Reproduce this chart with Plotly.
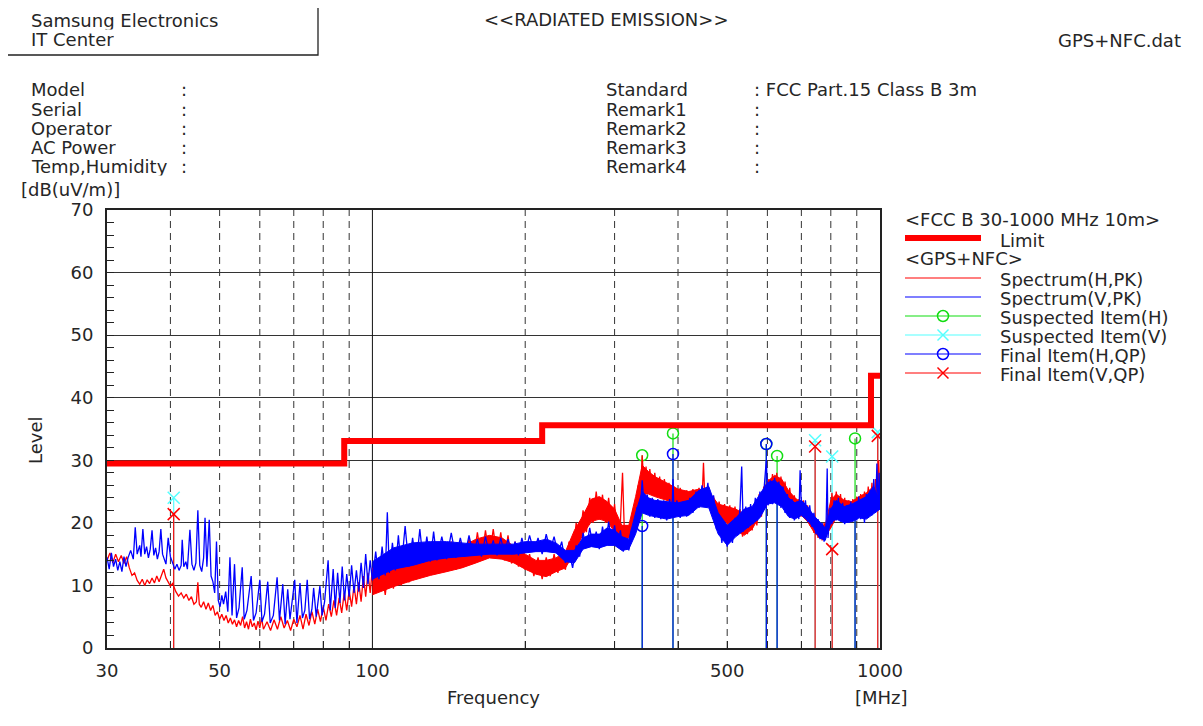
import plotly.graph_objects as go

# ---------------- data ----------------
LIMIT_FREQ = [30, 88, 88, 216, 216, 960, 960, 1000]
LIMIT_LEVEL = [29.5, 29.5, 33.1, 33.1, 35.6, 35.6, 43.5, 43.5]

# peak-detector spectra (MHz, dBuV/m)
SPEC_H = [
    (30.0, 14.0), (30.4, 15.2), (30.8, 13.6), (31.2, 15.0), (31.6, 13.8), (32.0, 14.8), (32.4, 13.5),
    (32.8, 14.6), (33.2, 12.8), (33.6, 11.6), (34.0, 12.0), (34.4, 10.8), (34.8, 10.2), (35.2, 11.0),
    (35.6, 10.0), (36.0, 10.9), (36.4, 10.3), (36.8, 11.2), (37.2, 10.4), (37.6, 11.5), (38.0, 10.6),
    (38.4, 11.8), (38.8, 12.6), (39.2, 11.2), (39.6, 10.5), (40.0, 9.9), (40.4, 10.3), (41.0, 9.0),
    (41.5, 8.3), (42.0, 8.8), (42.5, 8.0), (43.0, 8.6), (43.5, 7.6), (44.0, 8.2), (44.5, 7.0),
    (45.0, 7.4), (45.3, 10.5), (45.6, 7.0), (46.0, 6.5), (46.5, 7.4), (47.0, 6.2), (47.5, 7.2),
    (48.0, 6.0), (48.5, 6.8), (49.0, 5.2), (49.5, 5.8), (50.0, 4.6), (50.5, 5.4), (51.0, 4.4),
    (51.5, 5.2), (52.0, 4.0), (52.5, 4.8), (53.0, 3.8), (53.5, 4.5), (54.0, 3.4), (54.5, 4.4),
    (55.0, 3.6), (55.5, 5.0), (56.0, 3.2), (56.5, 4.2), (57.0, 3.0), (57.5, 4.6), (58.0, 3.4),
    (58.5, 4.0), (59.0, 2.9), (59.5, 4.3), (60.0, 3.2), (60.5, 4.8), (61.0, 3.0), (62.0, 4.2),
    (63.0, 2.8), (64.0, 4.5), (65.0, 3.0), (66.0, 5.0), (67.0, 3.2), (68.0, 4.4), (69.0, 2.8),
    (70.0, 4.6), (71.0, 3.4), (72.0, 5.2), (73.0, 3.0), (74.0, 5.4), (75.0, 3.6), (76.0, 5.8),
    (77.0, 3.8), (78.0, 6.2), (79.0, 4.2), (80.0, 6.6), (81.0, 4.4), (82.0, 7.0), (83.0, 5.0),
    (84.0, 7.6), (85.0, 5.2), (86.0, 8.0), (87.0, 5.6), (88.0, 8.8), (89.0, 6.0), (90.0, 9.2),
    (91.0, 6.6), (92.0, 10.0), (93.0, 7.0), (94.0, 10.5), (95.0, 7.4), (96.0, 11.5), (97.0, 8.2),
    (98.0, 12.0), (99.0, 8.8), (100.0, 12.8), (102, 9.0), (104, 13.0), (106, 8.5), (108, 14.0),
    (110, 9.5), (112, 14.5), (114, 10.0), (116, 15.0), (118, 10.5), (120, 15.5), (122, 11.0),
    (125, 16.0), (128, 11.5), (131, 16.5), (134, 12.0), (137, 16.8), (140, 12.2), (143, 17.0),
    (146, 12.5), (149, 17.0), (152, 13.0), (155, 17.5), (158, 13.5), (161, 18.5), (164, 14.0),
    (167, 18.8), (170, 14.5), (173, 19.0), (176, 14.5), (179, 18.5), (182, 14.0), (185, 18.0),
    (188, 13.5), (191, 17.0), (194, 13.0), (197, 16.0), (200, 12.5), (204, 15.0), (208, 11.5),
    (212, 14.5), (216, 11.0), (220, 14.5), (224, 11.5), (228, 15.0), (232, 12.0), (236, 15.5),
    (240, 12.5), (244, 17.0), (248, 14.5), (252, 20.0), (256, 17.0), (260, 22.0), (264, 18.5),
    (268, 24.0), (272, 20.0), (276, 25.0), (280, 20.5), (284, 24.5), (288, 20.0), (292, 24.0),
    (296, 19.5), (300, 23.0), (304, 18.0), (308, 20.0), (311, 28.0), (314, 17.0), (318, 19.5),
    (322, 17.5), (326, 22.0), (330, 20.0), (334, 26.0), (337, 23.0), (340, 30.8), (343, 25.5),
    (346, 29.0), (349, 24.8), (352, 28.6), (356, 24.6), (360, 28.0), (364, 24.2), (368, 27.4),
    (372, 24.0), (376, 27.0), (380, 23.6), (384, 26.4), (388, 23.4), (393, 25.8), (398, 23.0),
    (404, 25.6), (410, 22.8), (416, 25.2), (422, 23.0), (428, 25.4), (434, 23.2), (440, 25.6),
    (446, 23.4), (449, 29.6), (452, 23.2), (458, 25.4), (464, 22.6), (470, 24.2), (476, 20.6),
    (482, 23.4), (488, 20.2), (494, 23.0), (500, 19.8), (506, 22.8), (512, 19.4), (518, 22.6),
    (524, 18.4), (530, 22.2), (536, 17.8), (542, 21.8), (548, 18.2), (554, 22.4), (560, 18.8),
    (566, 23.0), (572, 19.6), (578, 24.6), (584, 21.0), (590, 25.8), (596, 22.6), (602, 27.0),
    (608, 23.4), (614, 27.8), (620, 24.0), (626, 28.0), (632, 23.6), (638, 27.4), (644, 23.0),
    (650, 26.6), (657, 22.4), (664, 25.6), (671, 21.8), (678, 24.4), (685, 21.4), (692, 23.8),
    (699, 21.0), (706, 23.6), (713, 20.6), (720, 22.8), (727, 19.6), (734, 21.4), (741, 18.4),
    (748, 20.4), (755, 17.6), (762, 19.8), (769, 17.2), (776, 20.0), (783, 17.8), (790, 21.0),
    (797, 19.0), (804, 24.8), (812, 20.6), (820, 25.0), (828, 21.0), (836, 24.6), (844, 20.6),
    (852, 24.0), (860, 20.4), (868, 23.6), (876, 20.2), (884, 23.8), (892, 20.6), (900, 24.2),
    (908, 21.0), (916, 24.6), (924, 20.8), (932, 25.0), (940, 21.2), (948, 25.8), (956, 21.4),
    (964, 26.4), (972, 21.8), (980, 27.0), (988, 22.2), (994, 30.0), (1000, 24.0),
]

SPEC_V = [
    (30.0, 14.5), (30.3, 12.6), (30.6, 15.2), (30.9, 13.0), (31.2, 14.2), (31.5, 12.4), (31.8, 13.8),
    (32.1, 12.2), (32.4, 14.6), (32.7, 13.0), (33.0, 14.4), (33.4, 15.6), (33.8, 14.2), (34.1, 19.3),
    (34.4, 15.0), (34.8, 16.4), (35.0, 14.6), (35.3, 19.0), (35.6, 15.0), (35.9, 16.2), (36.2, 14.4),
    (36.5, 15.8), (36.8, 18.8), (37.1, 14.8), (37.4, 16.0), (37.7, 14.2), (38.0, 15.4), (38.3, 19.0),
    (38.6, 15.0), (38.9, 14.0), (39.2, 13.4), (39.6, 17.6), (40.0, 14.6), (40.4, 13.6), (40.8, 12.6),
    (41.2, 13.4), (41.6, 12.4), (42.0, 13.2), (42.2, 17.3), (42.5, 13.0), (42.9, 13.8), (43.2, 12.6),
    (43.7, 18.9), (44.1, 13.4), (44.5, 12.4), (44.9, 13.6), (45.3, 22.0), (45.7, 13.2), (46.1, 12.2),
    (46.5, 14.4), (46.8, 20.8), (47.2, 13.0), (47.7, 20.5), (48.1, 11.5), (48.5, 10.6), (48.9, 8.8),
    (49.3, 17.0), (49.7, 7.6), (50.1, 6.6), (50.5, 8.4), (50.9, 7.0), (51.4, 9.0), (51.9, 5.8),
    (52.4, 14.5), (52.9, 5.2), (53.5, 13.4), (54.0, 4.8), (54.6, 6.4), (55.4, 12.9), (55.9, 4.6),
    (56.6, 6.0), (57.7, 11.5), (58.3, 4.4), (59.0, 5.6), (60.0, 10.9), (60.6, 4.2), (61.3, 5.4),
    (62.2, 10.6), (62.9, 4.0), (63.8, 5.2), (64.9, 11.3), (65.6, 4.4), (66.6, 10.2), (67.3, 3.8),
    (68.1, 9.4), (68.8, 4.6), (70.3, 10.9), (71.0, 4.0), (72.0, 10.4), (72.8, 4.8), (73.6, 6.0),
    (74.4, 10.9), (75.2, 4.6), (76.0, 6.2), (76.6, 9.6), (77.5, 5.0), (78.8, 9.9), (79.6, 5.2),
    (80.5, 7.4), (81.8, 14.0), (82.6, 6.0), (83.7, 12.6), (84.5, 6.4), (85.4, 12.0), (86.3, 7.2),
    (87.2, 13.0), (88.1, 7.6), (89.0, 11.8), (90.0, 8.2), (91.0, 13.2), (92.0, 8.8), (93.0, 12.4),
    (94.0, 9.0), (95.0, 13.6), (96.0, 9.6), (97.0, 15.0), (98.0, 10.2), (99.0, 14.0), (100.0, 10.8),
    (101.5, 15.4), (103.0, 11.0), (104.5, 16.2), (106.0, 11.6), (107.0, 21.7), (108.0, 12.0),
    (109.5, 16.8), (111.0, 12.4), (112.5, 18.0), (114.0, 12.8), (116.0, 19.5), (118.0, 13.0),
    (120.0, 17.6), (122.0, 13.4), (124.0, 19.0), (126.0, 13.6), (128.0, 17.8), (130.0, 13.8),
    (132.0, 18.6), (134.0, 14.0), (137.0, 17.8), (140.0, 14.2), (143.0, 18.4), (146.0, 14.4),
    (149.0, 17.6), (152.0, 14.6), (155.0, 18.0), (158.0, 14.8), (161.0, 17.4), (164.0, 14.6),
    (167.0, 17.8), (170.0, 15.0), (173.0, 17.2), (176.0, 14.8), (179.0, 17.6), (182.0, 15.2),
    (185.0, 17.4), (188.0, 15.0), (191.0, 17.0), (194.0, 14.8), (197.0, 17.6), (200.0, 15.2),
    (204.0, 18.0), (208.0, 15.4), (212.0, 17.6), (216.0, 15.0), (220.0, 18.2), (224.0, 15.6),
    (228.0, 17.8), (232.0, 15.0), (236.0, 17.0), (240.0, 13.6), (244.0, 15.4), (248.0, 12.8),
    (252.0, 16.4), (256.0, 14.6), (260.0, 18.4), (264.0, 16.0), (268.0, 19.2), (272.0, 16.2),
    (276.0, 18.6), (280.0, 15.8), (284.0, 19.4), (288.0, 16.4), (292.0, 20.2), (296.0, 16.8),
    (300.0, 19.6), (304.0, 16.2), (308.0, 18.8), (312.0, 15.4), (316.0, 17.0), (320.0, 15.6),
    (324.0, 19.0), (328.0, 18.0), (332.0, 22.5), (336.0, 20.5), (340.0, 26.8), (344.0, 21.5),
    (348.0, 24.5), (352.0, 21.0), (356.0, 24.0), (360.0, 20.8), (365.0, 23.8), (370.0, 20.6),
    (375.0, 23.6), (380.0, 20.4), (385.0, 23.8), (389.0, 21.0), (391.0, 27.0), (393.0, 21.2),
    (398.0, 23.6), (404.0, 20.8), (410.0, 23.4), (416.0, 21.0), (422.0, 24.0), (428.0, 21.6),
    (434.0, 25.0), (440.0, 22.4), (446.0, 26.0), (452.0, 22.8), (458.0, 26.4), (464.0, 22.0),
    (470.0, 24.4), (476.0, 19.0), (482.0, 21.0), (488.0, 16.8), (494.0, 20.0), (500.0, 16.2),
    (506.0, 19.6), (512.0, 16.8), (518.0, 20.8), (524.0, 18.0), (530.0, 22.4), (534.0, 29.0),
    (538.0, 18.6), (544.0, 22.6), (550.0, 19.2), (556.0, 23.0), (562.0, 19.8), (568.0, 24.0),
    (574.0, 20.4), (580.0, 25.0), (586.0, 21.6), (592.0, 26.0), (597.0, 30.0), (602.0, 22.8),
    (608.0, 26.8), (614.0, 23.0), (620.0, 27.2), (626.0, 23.2), (632.0, 26.6), (638.0, 22.4),
    (644.0, 25.8), (650.0, 21.6), (657.0, 24.6), (664.0, 20.8), (671.0, 23.8), (678.0, 20.4),
    (685.0, 23.4), (692.0, 20.6), (696.0, 28.4), (699.0, 24.0), (706.0, 21.0), (713.0, 23.6),
    (720.0, 20.2), (727.0, 22.8), (734.0, 19.4), (741.0, 21.6), (748.0, 18.2), (755.0, 20.6),
    (762.0, 17.4), (769.0, 20.0), (776.0, 17.0), (783.0, 19.6), (787.0, 28.7), (790.0, 17.6),
    (797.0, 22.4), (804.0, 19.8), (812.0, 23.6), (820.0, 20.4), (828.0, 24.0), (836.0, 20.2),
    (844.0, 23.2), (852.0, 19.8), (860.0, 22.8), (868.0, 20.0), (876.0, 23.4), (884.0, 20.2),
    (892.0, 23.0), (900.0, 20.4), (908.0, 24.2), (916.0, 20.6), (924.0, 23.4), (932.0, 20.0),
    (940.0, 24.6), (948.0, 20.8), (956.0, 25.2), (964.0, 21.2), (972.0, 27.0), (980.0, 21.6),
    (986.0, 29.5), (992.0, 22.0), (996.0, 28.0), (1000.0, 23.0),
]

# dense noise band of each spectrum above 100 MHz: (MHz, lower edge, upper edge)
BAND_H = [
    (100, 8.5, 12.0), (110, 9.8, 13.6), (120, 10.8, 14.6), (130, 11.6, 15.6), (140, 12.2, 16.0),
    (150, 12.8, 16.2), (160, 13.6, 17.4), (170, 14.4, 18.0), (180, 14.2, 17.6), (190, 13.6, 16.2),
    (200, 12.6, 15.0), (210, 11.8, 14.0), (220, 11.4, 14.0), (230, 12.2, 14.4), (240, 12.8, 15.4),
    (250, 15.2, 18.8), (260, 18.2, 21.2), (270, 20.2, 23.8), (280, 20.6, 24.2), (290, 20.2, 23.4),
    (300, 18.6, 22.2), (310, 17.2, 19.6), (320, 17.6, 19.6), (330, 20.2, 24.2), (340, 24.6, 29.2),
    (350, 24.6, 28.2), (360, 24.2, 27.4), (380, 23.6, 26.4), (400, 23.2, 25.4), (420, 23.0, 25.0),
    (440, 23.4, 25.4), (460, 23.0, 25.0), (480, 20.6, 23.0), (500, 20.0, 22.6), (520, 18.8, 22.2),
    (540, 18.0, 21.4), (560, 19.0, 22.0), (580, 21.2, 24.2), (600, 23.0, 26.6), (620, 24.2, 27.6),
    (640, 23.2, 27.0), (660, 22.6, 25.2), (680, 21.8, 24.0), (700, 21.2, 23.2), (720, 20.2, 22.4),
    (740, 18.6, 21.0), (760, 17.6, 19.4), (780, 17.8, 19.6), (800, 19.2, 23.6), (820, 20.8, 24.6),
    (850, 20.6, 23.6), (880, 20.4, 23.4), (910, 21.2, 24.2), (940, 21.4, 24.8), (970, 21.8, 25.8),
    (1000, 22.2, 24.6),
]
BAND_V = [
    (100, 11.0, 13.8), (110, 12.6, 16.0), (120, 13.2, 16.8), (130, 14.0, 17.0), (140, 14.4, 17.0),
    (150, 14.6, 16.8), (160, 14.8, 16.6), (170, 15.0, 16.6), (180, 15.0, 16.6), (190, 15.0, 16.6),
    (200, 15.2, 17.0), (210, 15.4, 17.0), (220, 15.4, 17.4), (230, 15.2, 16.8), (240, 13.8, 15.6),
    (250, 13.6, 15.6), (260, 15.8, 17.6), (270, 16.2, 18.2), (280, 16.0, 18.2), (290, 16.4, 19.2),
    (300, 16.4, 18.8), (310, 15.6, 17.8), (320, 15.8, 17.4), (330, 18.2, 21.6), (340, 21.6, 25.0),
    (350, 21.2, 24.0), (360, 21.0, 23.6), (380, 20.6, 23.4), (400, 21.0, 23.2), (420, 21.2, 23.6),
    (440, 22.6, 25.2), (460, 22.4, 25.8), (480, 18.2, 21.6), (500, 16.4, 19.6), (520, 17.8, 20.8),
    (540, 18.8, 22.2), (560, 19.8, 22.6), (580, 20.8, 24.6), (600, 23.0, 26.4), (620, 23.2, 26.8),
    (640, 22.6, 25.8), (660, 21.0, 24.0), (680, 20.6, 23.2), (700, 21.2, 23.6), (720, 20.4, 22.6),
    (740, 19.2, 21.2), (760, 17.6, 20.2), (780, 17.2, 19.2), (800, 20.0, 22.2), (820, 20.6, 23.6),
    (850, 20.0, 22.6), (880, 20.2, 23.0), (910, 20.8, 23.6), (940, 20.6, 24.2), (970, 21.4, 25.8),
    (1000, 22.2, 23.6),
]

SUSP_H_FREQ = [340, 391, 597, 627, 893]
SUSP_H_LEVEL = [30.8, 34.3, 32.6, 30.7, 33.5]
SUSP_V_FREQ = [40.6, 745, 805, 990]
SUSP_V_LEVEL = [24.0, 33.2, 30.6, 34.5]
FINAL_H_FREQ = [340, 391, 597, 627, 893]
FINAL_H_LEVEL = [19.5, 31.0, 32.6, 24.8, 21.6]
FINAL_V_FREQ = [40.6, 745, 805, 990]
FINAL_V_LEVEL = [21.4, 32.2, 15.8, 33.9]

X_TICKS = [30, 40, 50, 60, 70, 80, 90, 100, 200, 300, 400, 500, 600, 700, 800, 900, 1000]
X_TICK_TEXT = ["30", "", "50", "", "", "", "", "100", "", "", "", "500", "", "", "", "", "1000"]
DASHED_GRID = [40, 50, 60, 70, 80, 90, 200, 300, 400, 500, 600, 700, 800, 900]
SOLID_GRID = [100]

HEADER_LEFT = ["Model", "Serial", "Operator", "AC Power", "Temp,Humidity"]
HEADER_RIGHT = ["Standard", "Remark1", "Remark2", "Remark3", "Remark4"]
HEADER_RIGHT_VALUES = ["FCC Part.15 Class B 3m", "", "", "", ""]

LEGEND_ITEMS = ["Spectrum(H,PK)", "Spectrum(V,PK)", "Suspected Item(H)",
                "Suspected Item(V)", "Final Item(H,QP)", "Final Item(V,QP)"]

# ---------------- styling ----------------
W, H = 1203, 726
OX, OY = 8, 8  # page offset of the figure inside the browser window
PL, PR, PT, PB = 107, 880, 210, 648  # plot area in window pixels
FONT = "DejaVu Sans"
FS = 18
ROW = 18.4  # text box height for stacked rows
TXT = "#262626"
RED = "#ff0000"
BLUE = "#0000ff"
GREEN = "#11dd11"
CYAN = "#55ffff"
GRID = "#333333"


def px(x):
    return (x - OX) / W


def py(y):
    return 1 - (y - OY) / H


fig = go.Figure()

for f in DASHED_GRID:
    fig.add_trace(go.Scatter(x=[f, f], y=[0, 70], mode="lines", line=dict(color=GRID, width=1, dash="7px,5px"),
                             hoverinfo="skip", showlegend=False))
for f in SOLID_GRID:
    fig.add_trace(go.Scatter(x=[f, f], y=[0, 70], mode="lines", line=dict(color="#111", width=1),
                             hoverinfo="skip", showlegend=False))

# detected items: stems and markers (spectra are drawn over them)
for f, v in zip(SUSP_H_FREQ, SUSP_H_LEVEL):
    fig.add_trace(go.Scatter(x=[f, f], y=[0, v], mode="lines", line=dict(color=GREEN, width=1.2),
                             hoverinfo="skip", showlegend=False))
for f, v in zip(SUSP_V_FREQ, SUSP_V_LEVEL):
    fig.add_trace(go.Scatter(x=[f, f], y=[0, v], mode="lines", line=dict(color=CYAN, width=1.2),
                             hoverinfo="skip", showlegend=False))
for f, v in zip(FINAL_H_FREQ, FINAL_H_LEVEL):
    fig.add_trace(go.Scatter(x=[f, f], y=[0, v], mode="lines", line=dict(color=BLUE, width=1.2),
                             hoverinfo="skip", showlegend=False))
for f, v in zip(FINAL_V_FREQ, FINAL_V_LEVEL):
    fig.add_trace(go.Scatter(x=[f, f], y=[0, v], mode="lines", line=dict(color=RED, width=1.2),
                             hoverinfo="skip", showlegend=False))

fig.add_trace(go.Scatter(x=SUSP_H_FREQ, y=SUSP_H_LEVEL, mode="markers", showlegend=False,
                         marker=dict(symbol="circle-open", size=11, color=GREEN, line=dict(width=1.5))))
fig.add_trace(go.Scatter(x=SUSP_V_FREQ, y=SUSP_V_LEVEL, mode="markers", showlegend=False,
                         marker=dict(symbol="x-thin-open", size=12, color=CYAN, line=dict(width=1.5, color=CYAN))))
fig.add_trace(go.Scatter(x=FINAL_H_FREQ, y=FINAL_H_LEVEL, mode="markers", showlegend=False,
                         marker=dict(symbol="circle-open", size=11, color=BLUE, line=dict(width=1.5))))
fig.add_trace(go.Scatter(x=FINAL_V_FREQ, y=FINAL_V_LEVEL, mode="markers", showlegend=False,
                         marker=dict(symbol="x-thin-open", size=12, color=RED, line=dict(width=1.5, color=RED))))


def add_band(band, color):
    xs = [b[0] for b in band] + [b[0] for b in band][::-1]
    ys = [b[2] for b in band] + [b[1] for b in band][::-1]
    fig.add_trace(go.Scatter(x=xs, y=ys, mode="lines", fill="toself", fillcolor=color,
                             line=dict(color=color, width=1), hoverinfo="skip", showlegend=False))


add_band(BAND_H, RED)
fig.add_trace(go.Scatter(x=[p[0] for p in SPEC_H], y=[p[1] for p in SPEC_H], mode="lines",
                         line=dict(color=RED, width=1.3), showlegend=False, name="Spectrum(H,PK)"))
add_band(BAND_V, BLUE)
fig.add_trace(go.Scatter(x=[p[0] for p in SPEC_V], y=[p[1] for p in SPEC_V], mode="lines",
                         line=dict(color=BLUE, width=1.3), showlegend=False, name="Spectrum(V,PK)"))

fig.add_trace(go.Scatter(x=LIMIT_FREQ, y=LIMIT_LEVEL, mode="lines", line=dict(color=RED, width=6),
                         showlegend=False, name="Limit"))

annotations = []
shapes = []


def txt(x, y, s, anchor="left", size=FS, angle=0, box=None):
    d = dict(x=px(x), y=py(y), xref="paper", yref="paper", text=s, showarrow=False,
             xanchor=anchor, yanchor="middle", textangle=angle, borderpad=0, borderwidth=0,
             font=dict(family=FONT, size=size, color=TXT))
    if box:
        d["height"] = box
    annotations.append(d)


def hline(x0, x1, y, color, width):
    shapes.append(dict(type="line", xref="paper", yref="paper", x0=px(x0), x1=px(x1), y0=py(y), y1=py(y),
                       line=dict(color=color, width=width)))


# ---------------- legend ----------------
LX0, LX1, LMX, LTX = 905, 981, 943, 1000
leg_y = [278, 297, 316, 335, 354, 373]
leg_colors = [RED, BLUE, GREEN, CYAN, BLUE, RED]
leg_symbols = [None, None, "o", "x", "o", "x"]
hline(LX0, LX1, 238, RED, 6)
for yy, col, sym in zip(leg_y, leg_colors, leg_symbols):
    hline(LX0, LX1, yy, col, 1.2)
    if sym == "o":
        shapes.append(dict(type="circle", xref="paper", yref="paper", x0=px(LMX - 5.5), x1=px(LMX + 5.5),
                           y0=py(yy + 5.5), y1=py(yy - 5.5), line=dict(color=col, width=1.5)))
    elif sym == "x":
        for d in (-1, 1):
            shapes.append(dict(type="line", xref="paper", yref="paper", x0=px(LMX - 5.5), x1=px(LMX + 5.5),
                               y0=py(yy - 5.5 * d), y1=py(yy + 5.5 * d), line=dict(color=col, width=1.5)))

txt(905, 219, "&lt;FCC B 30-1000 MHz 10m&gt;", box=ROW)
txt(LTX, 240, "Limit", box=ROW)
txt(905, 258, "&lt;GPS+NFC&gt;", box=ROW)
for yy, s in zip(leg_y, LEGEND_ITEMS):
    txt(LTX, yy + 1, s, box=ROW)

# ---------------- header ----------------
txt(31, 20, "Samsung Electronics", box=ROW)
txt(31, 39, "IT Center", box=ROW)
txt(606, 20, "&lt;&lt;RADIATED EMISSION&gt;&gt;", anchor="center")
txt(1181, 40, "GPS+NFC.dat", anchor="right")
hy = [89.5, 108.5, 127.5, 146.5, 165.5]
for yy, s in zip(hy, HEADER_LEFT):
    txt(31, yy, s, box=ROW)
    txt(181, yy, ":", box=ROW)
for yy, s, v in zip(hy, HEADER_RIGHT, HEADER_RIGHT_VALUES):
    txt(606, yy, s, box=ROW)
    txt(754, yy, ": " + v if v else ":", box=ROW)

txt(21, 189, "[dB(uV/m)]", box=ROW)
txt(35, 440, "Level", anchor="center", angle=-90)
txt(493, 697, "Frequency", anchor="center")
txt(881, 697, "[MHz]", anchor="center")

shapes += [
    dict(type="rect", xref="paper", yref="paper", x0=px(5), y0=py(1), x1=px(318), y1=py(55),
         line=dict(color="#222", width=1.3)),
    dict(type="line", xref="paper", yref="paper", x0=px(5), y0=py(1), x1=px(1210), y1=py(1),
         line=dict(color="#777", width=2)),
    dict(type="line", xref="paper", yref="paper", x0=px(5), y0=py(1), x1=px(5), y1=py(740),
         line=dict(color="#222", width=1.3)),
]

fig.update_layout(
    width=W, height=H,
    margin=dict(l=0, r=0, t=0, b=0, autoexpand=False),
    paper_bgcolor="white", plot_bgcolor="white",
    showlegend=False,
    annotations=annotations,
    shapes=shapes,
    xaxis=dict(type="log", range=[1.4771213, 3], domain=[(PL - OX) / W, (PR - OX) / W],
               tickvals=X_TICKS, ticktext=X_TICK_TEXT, ticks="inside", ticklen=7, tickcolor="#222",
               showgrid=False, zeroline=False, showline=True, linecolor="#222", linewidth=2, mirror=True,
               tickfont=dict(family=FONT, size=FS, color=TXT), ticklabelstandoff=5),
    yaxis=dict(range=[0, 70], domain=[1 - (PB - OY) / H, 1 - (PT - OY) / H], dtick=10, ticks="inside",
               ticklen=7, tickcolor="#222", showgrid=True, gridcolor=GRID, gridwidth=1, zeroline=False,
               showline=True, linecolor="#222", linewidth=2, mirror=True,
               minor=dict(dtick=2, ticks="inside", ticklen=7, tickcolor="#222", showgrid=False),
               tickfont=dict(family=FONT, size=FS, color=TXT), ticklabelstandoff=8),
)

fig.write_html("out.html")
